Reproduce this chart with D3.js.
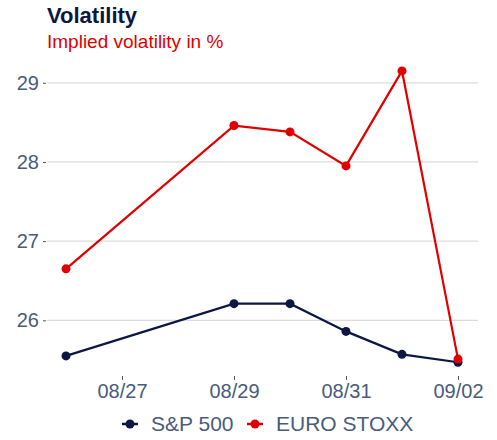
<!DOCTYPE html>
<html>
<head>
<meta charset="utf-8">
<script src="https://cdn.jsdelivr.net/npm/d3@7"></script>
<style>
  body { margin: 0; background: #fff; }
  text { font-family: "Liberation Sans", Arial, sans-serif; }
</style>
</head>
<body>
<div id="chart"></div>
<script>
// data
const dates = ["2022-08-26", "2022-08-29", "2022-08-30", "2022-08-31", "2022-09-01", "2022-09-02"];
const sp500 = [25.55, 26.21, 26.21, 25.86, 25.57, 25.47];
const euroStoxx = [26.65, 28.46, 28.38, 27.95, 29.15, 25.51];
const seriesNames = ["S&P 500", "EURO STOXX"];
const yTicks = [26, 27, 28, 29];
const xTicks = ["2022-08-27", "2022-08-29", "2022-08-31", "2022-09-02"];

const W = 497, H = 440;
const navy = "#0c1744", red = "#e10000", tickCol = "#4a5b7c";

const parse = d3.timeParse("%Y-%m-%d");
const fmt = d3.timeFormat("%m/%d");

const svg = d3.select("#chart").append("svg").attr("width", W).attr("height", H);

const x = d3.scaleTime()
  .domain([parse(dates[0]), parse(dates[dates.length - 1])])
  .range([66, 458]);
const y = d3.scaleLinear().domain([26, 29]).range([320.3, 82.8]);

// grid lines
svg.append("g").selectAll("line")
  .data(yTicks).enter().append("line")
  .attr("x1", 47).attr("x2", 478)
  .attr("y1", d => y(d)).attr("y2", d => y(d))
  .attr("stroke", "#dcdcdc").attr("stroke-width", 1.3);

// y axis
let yAxis = svg.append("g")
  .attr("transform", "translate(46,0)")
  .call(d3.axisLeft(y).tickValues(yTicks).tickFormat(d3.format("d")).tickSize(3).tickPadding(4));
yAxis.select(".domain").remove();
yAxis.selectAll("line").attr("stroke", "#555");
yAxis.selectAll("text").attr("fill", tickCol).style("font-size", "20px")
  .style("font-family", "Liberation Sans, Arial, sans-serif");

// x axis
let xAxis = svg.append("g")
  .attr("transform", "translate(0,376)")
  .call(d3.axisBottom(x).tickValues(xTicks.map(parse)).tickFormat(fmt).tickSize(4).tickPadding(4));
xAxis.select(".domain").remove();
xAxis.selectAll("line").attr("stroke", "#555");
xAxis.selectAll("text").attr("fill", tickCol).style("font-size", "20px")
  .style("font-family", "Liberation Sans, Arial, sans-serif");

// lines
const series = [
  { name: seriesNames[0], values: sp500, color: navy },
  { name: seriesNames[1], values: euroStoxx, color: red }
];

const line = d3.line().x(d => x(d.date)).y(d => y(d.v));

series.forEach(s => {
  const pts = s.values.map((v, i) => ({ date: parse(dates[i]), v: v }));
  svg.append("path").datum(pts)
    .attr("d", line)
    .attr("fill", "none")
    .attr("stroke", s.color)
    .attr("stroke-width", 2.2);
  svg.append("g").selectAll("circle")
    .data(pts).enter().append("circle")
    .attr("cx", d => x(d.date)).attr("cy", d => y(d.v))
    .attr("r", 4.5)
    .attr("fill", s.color);
});

// title
svg.append("text").attr("x", 47).attr("y", 23)
  .text("Volatility")
  .attr("fill", navy).style("font-size", "22px").style("font-weight", "bold");
svg.append("text").attr("x", 47).attr("y", 48)
  .text("Implied volatility in %")
  .attr("fill", red).style("font-size", "19px");

// legend
const legendX = [130, 255];
let legend = svg.append("g").selectAll("g")
  .data(series).enter().append("g")
  .attr("transform", (d, i) => `translate(${legendX[i]},424)`);
legend.append("line")
  .attr("x1", -8).attr("x2", 8)
  .attr("stroke", d => d.color).attr("stroke-width", 2.5);
legend.append("circle").attr("r", 4.5).attr("fill", d => d.color);
legend.append("text")
  .attr("x", (d, i) => i === 0 ? 21 : 21)
  .attr("dy", "0.35em")
  .text(d => d.name)
  .attr("fill", tickCol).style("font-size", "21px");
</script>
</body>
</html>
